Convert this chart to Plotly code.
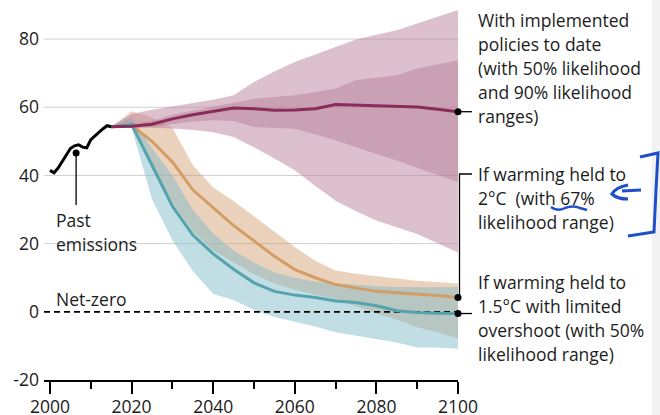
import plotly.graph_objects as go

# ---------------- data ----------------
past_years = list(range(2000, 2016))
past_emissions = [41.5, 40.8, 42.2, 44.0, 46.0, 47.9, 48.7, 49.0, 48.3, 48.1,
                  50.5, 51.6, 52.7, 53.7, 54.6, 54.3]

years = list(range(2015, 2101, 5))
policy_median = [54.3, 54.4, 55.0, 56.6, 57.8, 58.9, 59.8, 59.6, 59.1, 59.2,
                 59.6, 60.8, 60.6, 60.4, 60.1, 60.1, 59.4, 58.7]
policy_50_hi = [54.3, 55.0, 56.0, 57.8, 59.0, 60.2, 61.3, 62.5, 63.0, 63.5,
                64.5, 65.5, 68.0, 68.7, 69.4, 71.4, 72.6, 73.8]
policy_50_lo = [54.3, 54.0, 54.2, 55.0, 55.8, 56.2, 56.0, 54.2, 53.9, 53.7,
                52.0, 50.3, 48.3, 46.3, 44.4, 42.4, 40.2, 38.0]
policy_90_hi = [54.3, 58.0, 59.3, 60.3, 61.2, 62.2, 63.5, 67.4, 70.5, 73.3,
                75.5, 77.7, 79.9, 81.3, 82.6, 84.6, 86.5, 88.5]
policy_90_lo = [54.3, 54.0, 54.0, 53.8, 53.3, 52.7, 51.3, 48.3, 45.0, 41.5,
                37.0, 32.6, 29.5, 26.8, 24.8, 22.8, 20.2, 17.4]

c2_median = [54.3, 54.7, 50.0, 44.0, 35.8, 30.5, 25.3, 20.8, 16.3, 12.4,
             10.0, 8.0, 6.9, 6.0, 5.6, 5.3, 4.8, 4.2]
c2_hi = [54.3, 58.8, 57.0, 54.0, 43.0, 36.5, 32.5, 28.0, 23.5, 19.0,
         15.0, 12.1, 11.2, 10.6, 9.8, 9.1, 8.7, 8.3]
c2_lo = [54.3, 54.0, 43.0, 32.0, 23.5, 18.0, 14.5, 11.0, 8.3, 6.5,
         5.0, 3.7, 1.5, -0.5, -2.3, -4.5, -6.0, -7.8]

c15_median = [54.3, 55.0, 43.0, 31.0, 22.5, 17.0, 12.5, 8.5, 6.0, 4.9,
              4.2, 3.2, 2.7, 1.8, 0.3, -0.2, -0.4, -0.5]
c15_hi = [54.3, 57.0, 48.0, 40.0, 30.0, 23.0, 18.0, 14.5, 11.5, 10.0,
          8.8, 8.3, 7.8, 7.5, 7.3, 7.2, 7.2, 7.3]
c15_lo = [54.3, 54.0, 33.0, 21.0, 12.0, 5.2, 3.5, 0.5, -1.5, -3.0,
          -4.3, -6.0, -7.0, -8.0, -9.0, -10.5, -10.5, -10.8]

y_ticks = [-20, 0, 20, 40, 60, 80]
y_tick_labels = ["-20", "0", "20", "40", "60", "80"]
grid_values = [20, 40, 60, 80]
x_ticks = [2000, 2020, 2040, 2060, 2080, 2100]

label_policy = ["With implemented", "policies to date", "(with 50% likelihood",
                "and 90% likelihood", "ranges)"]
label_2c = ["If warming held to", "2°C  (with 67%", "likelihood range)"]
label_15c = ["If warming held to", "1.5°C with limited", "overshoot (with 50%",
             "likelihood range)"]
label_past = ["Past", "emissions"]
label_netzero = ["Net-zero"]

past_marker = (2006.4, 46.6)
past_leader_end = 31.3

# ---------------- layout geometry ----------------
W, H = 660, 415
L, R, T, B = 44, 202, 5, 35
X0, X1 = 1998.53, 2100
Y0, Y1 = -20, 90
PW, PH = W - L - R, H - T - B


def px_x(px):
    return (px - L) / PW


def px_y(py):
    return (H - B - py) / PH


def val_y(v):
    return (v - Y0) / (Y1 - Y0)


FONT = "Open Sans"
FS = 17.5
TXT = "#1c1c1c"
LINE_GAP = 24

fig = go.Figure()

# gridlines
for g in grid_values:
    fig.add_trace(go.Scatter(x=[X0, X1], y=[g, g], mode="lines",
                             line=dict(color="#cfcfcf", width=1), hoverinfo="skip"))


def band(hi, lo, color):
    fig.add_trace(go.Scatter(x=years + years[::-1], y=hi + lo[::-1], fill="toself",
                             fillcolor=color, line=dict(width=0), mode="lines",
                             hoverinfo="skip"))


band(c2_hi, c2_lo, "rgba(210,155,108,0.45)")
band(c15_hi, c15_lo, "rgba(128,186,200,0.48)")
band(policy_90_hi, policy_90_lo, "rgba(186,130,158,0.5)")
band(policy_50_hi, policy_50_lo, "rgba(176,116,142,0.40)")

# net-zero dashed
fig.add_trace(go.Scatter(x=[X0, X1], y=[0, 0], mode="lines",
                         line=dict(color="black", width=1.8, dash="6px,4px"),
                         hoverinfo="skip"))

fig.add_trace(go.Scatter(x=years, y=c2_median, mode="lines",
                         line=dict(color="#d39e66", width=3)))
fig.add_trace(go.Scatter(x=years, y=c15_median, mode="lines",
                         line=dict(color="#55a3ad", width=3)))
fig.add_trace(go.Scatter(x=years, y=policy_median, mode="lines",
                         line=dict(color="#8a2b5a", width=3)))
fig.add_trace(go.Scatter(x=past_years, y=past_emissions, mode="lines",
                         line=dict(color="black", width=3)))

# past emissions leader
fig.add_trace(go.Scatter(x=[past_marker[0], past_marker[0]], y=[past_marker[1], past_leader_end],
                         mode="lines", line=dict(color="black", width=1.3)))
fig.add_trace(go.Scatter(x=[past_marker[0]], y=[past_marker[1]], mode="markers",
                         marker=dict(color="black", size=7)))

# end dots
fig.add_trace(go.Scatter(x=[years[-1]] * 3, y=[policy_median[-1], c2_median[-1], c15_median[-1]],
                         mode="markers", marker=dict(color="black", size=7), cliponaxis=False))

shapes = []
# leader lines on the right
for v in (policy_median[-1], c15_median[-1]):
    shapes.append(dict(type="line", xref="paper", yref="paper",
                       x0=1.0, x1=px_x(472), y0=val_y(v), y1=val_y(v),
                       line=dict(color="black", width=1.3)))
shapes.append(dict(type="path", xref="paper", yref="paper",
                   path=f"M {px_x(472)},{px_y(174)} L {px_x(459.5)},{px_y(174)} "
                        f"L {px_x(459.5)},{val_y(c2_median[-1])}",
                   line=dict(color="black", width=1.3)))

# grey strip at the right edge
shapes.append(dict(type="rect", xref="paper", yref="paper", x0=px_x(652), x1=px_x(661),
                   y0=px_y(416), y1=px_y(-1), fillcolor="#f2f2f2", line=dict(width=0),
                   layer="below"))


def pen(points_str):
    out = []
    for tok in points_str.split():
        if tok[0].isalpha():
            out.append(tok)
        else:
            a, b = tok.split(",")
            out.append(f"{px_x(float(a)):.5f},{px_y(float(b)):.5f}")
    return " ".join(out)


BLUE = "#1f4fc8"
shapes.append(dict(type="path", xref="paper", yref="paper",
                   path=pen("M 640,157 L 658,153 L 656,190 L 654,232 L 628,236"),
                   line=dict(color=BLUE, width=3)))
shapes.append(dict(type="path", xref="paper", yref="paper",
                   path=pen("M 641,190 L 622,191 M 628,185 Q 616,187 612,194 Q 617,199 628,199"),
                   line=dict(color=BLUE, width=3.2)))
shapes.append(dict(type="path", xref="paper", yref="paper",
                   path=pen("M 551,207 Q 557,212 565,208 Q 573,205 580,208 L 587,210"),
                   line=dict(color=BLUE, width=2.5)))

annotations = []


def note(lines, px, py_first):
    for i, t in enumerate(lines):
        annotations.append(dict(text=t, xref="paper", yref="paper", x=px_x(px),
                                y=px_y(py_first + i * LINE_GAP),
                                xanchor="left", yanchor="middle", align="left",
                                showarrow=False,
                                font=dict(family=FONT, size=FS, color=TXT)))


note(label_policy, 476, 20)
note(label_2c, 476, 174)
note(label_15c, 476, 282)
note(label_past, 54, 220)
note(label_netzero, 54, 299)

fig.update_layout(
    width=W, height=H,
    margin=dict(l=L, r=R, t=T, b=B, autoexpand=False),
    plot_bgcolor="white", paper_bgcolor="white",
    showlegend=False,
    shapes=shapes, annotations=annotations,
    font=dict(family=FONT, size=FS, color=TXT),
    xaxis=dict(range=[X0, X1], tickvals=x_ticks, showgrid=False, zeroline=False,
               automargin=False,
               showline=True, linecolor="black", linewidth=1.5,
               ticks="outside", ticklen=12, tickwidth=1.5, tickcolor="black",
               ticklabelstandoff=-2,
               minor=dict(dtick=10, tick0=2000, ticks="outside", ticklen=7,
                          tickwidth=1.5, tickcolor="black"),
               tickfont=dict(family=FONT, size=FS, color=TXT)),
    yaxis=dict(range=[Y0, Y1], tickvals=y_ticks, ticktext=y_tick_labels,
               automargin=False,
               showgrid=False, zeroline=False, showline=False, ticks="",
               ticklabelstandoff=4,
               tickfont=dict(family=FONT, size=FS, color=TXT)),
)

fig.write_html("out.html", config={"displayModeBar": False},
               post_script="document.body.style.margin='0';document.body.style.overflow='hidden';")
